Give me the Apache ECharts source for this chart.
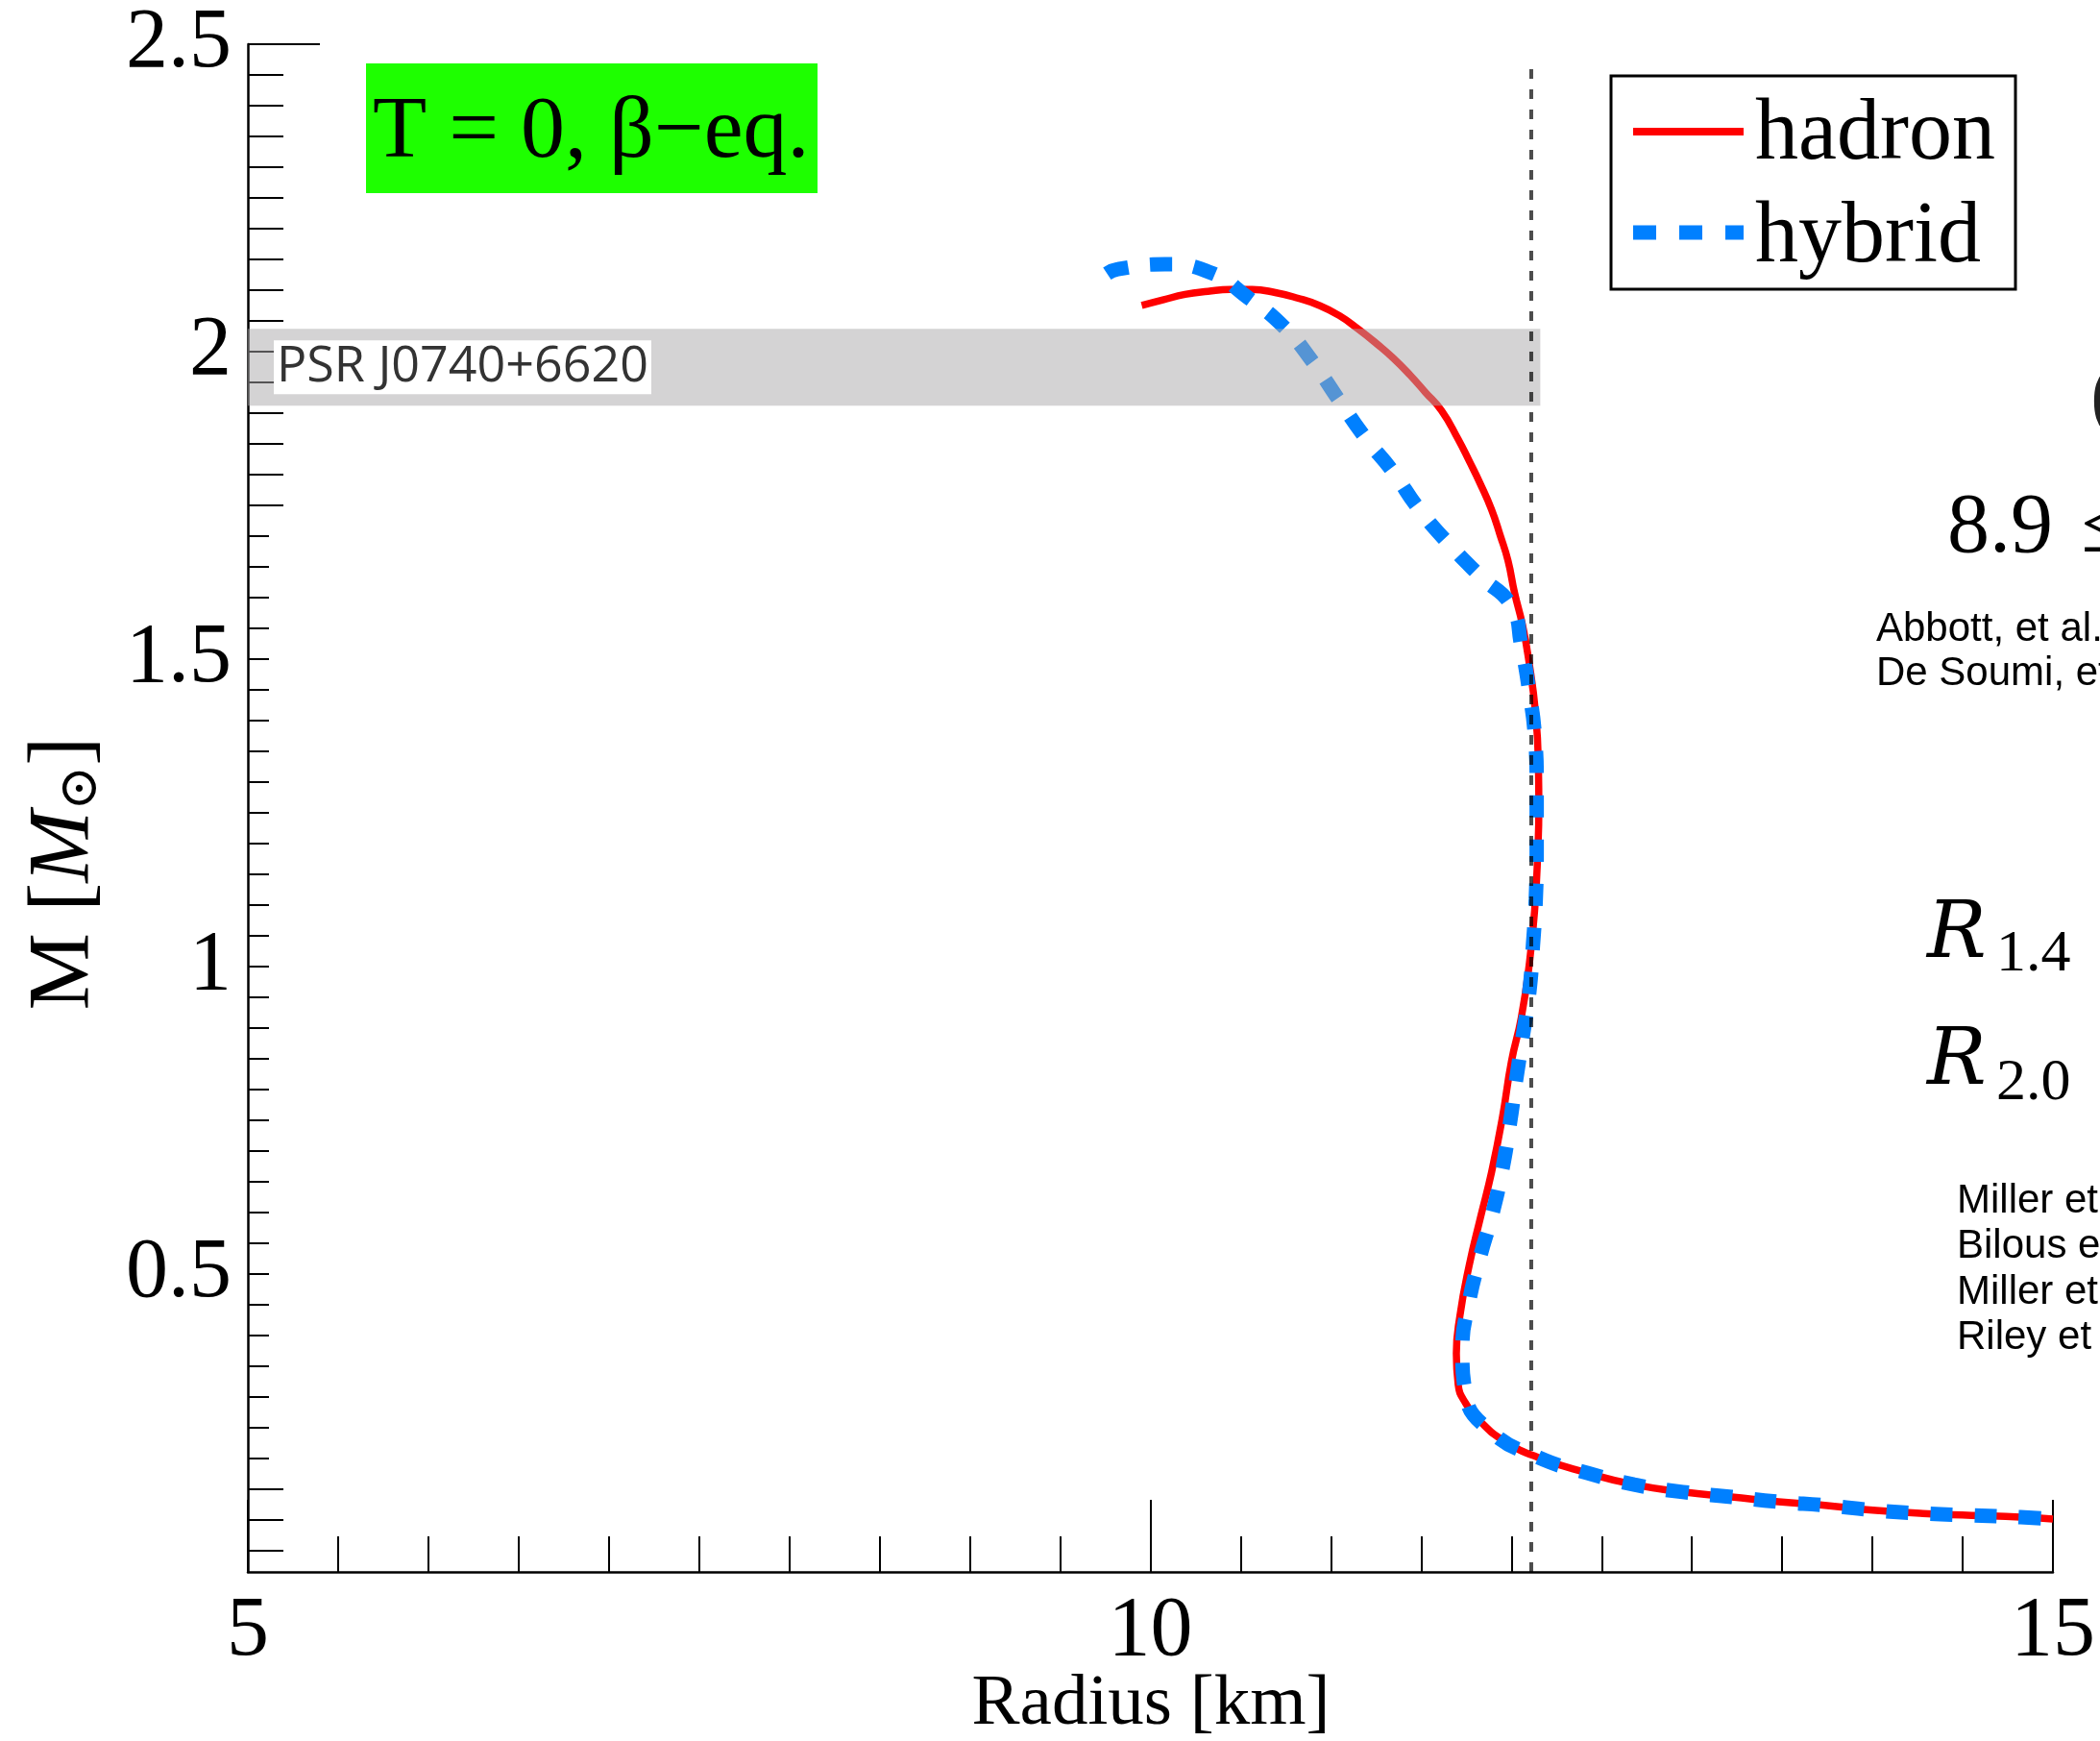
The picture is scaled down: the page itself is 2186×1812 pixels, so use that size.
<!DOCTYPE html>
<html><head><meta charset="utf-8">
<script src="https://cdn.jsdelivr.net/npm/echarts@6/dist/echarts.min.js"></script>
<style>html,body{margin:0;padding:0;background:#fff}#c{width:2186px;height:1812px}</style>
</head><body><div id="c"></div>
<script>
// ---- data ----
const hadronR = [9.952, 10.069, 10.192, 10.319, 10.442, 10.564, 10.692, 10.815, 10.937, 11.044, 11.150, 11.257, 11.347, 11.438, 11.523, 11.613, 11.704, 11.768, 11.826, 11.890, 11.938, 11.981, 12.018, 12.061, 12.093, 12.135, 12.15, 12.152, 12.146, 12.13, 12.10, 12.055, 12.00, 11.95, 11.89, 11.83, 11.765, 11.715, 11.695, 11.705, 11.745, 11.83, 11.96, 12.15, 12.42, 12.68, 12.95, 13.22, 13.48, 13.75, 14.02, 14.28, 14.55, 14.82, 15.0];
const hadronM = [2.075, 2.084, 2.093, 2.098, 2.101, 2.101, 2.096, 2.087, 2.075, 2.059, 2.037, 2.012, 1.989, 1.962, 1.934, 1.904, 1.858, 1.821, 1.786, 1.743, 1.701, 1.660, 1.607, 1.556, 1.504, 1.409, 1.320, 1.257, 1.186, 1.096, 1.006, 0.917, 0.845, 0.754, 0.665, 0.593, 0.512, 0.432, 0.370, 0.320, 0.290, 0.259, 0.228, 0.201, 0.176, 0.157, 0.145, 0.137, 0.129, 0.123, 0.115, 0.110, 0.107, 0.104, 0.101];
const hybridR = [9.76, 9.82, 10.08, 10.33, 10.54, 10.74, 10.90, 11.04, 11.19, 11.34, 11.49, 11.66, 11.83, 12.00, 12.055, 12.10, 12.13, 12.14, 12.14, 12.135, 12.12, 12.10, 12.065, 12.025, 11.99, 11.95, 11.895, 11.825, 11.765, 11.728, 11.745, 11.88, 12.15, 12.42, 12.68, 12.95, 13.22, 13.48, 13.75, 14.02, 14.28, 14.55, 14.82, 15.0];
const hybridM = [2.127, 2.134, 2.142, 2.129, 2.088, 2.040, 1.983, 1.923, 1.860, 1.806, 1.743, 1.685, 1.634, 1.586, 1.521, 1.445, 1.375, 1.298, 1.186, 1.109, 1.037, 0.960, 0.890, 0.813, 0.741, 0.670, 0.598, 0.526, 0.454, 0.378, 0.306, 0.245, 0.201, 0.176, 0.157, 0.145, 0.137, 0.129, 0.123, 0.115, 0.110, 0.107, 0.104, 0.101];

const refLineR = [12.11, 12.11];
const refLineM = [0.015, 2.468];

const bandR = [5, 12.16];
const bandM = [1.912, 2.037];
const bandName = 'PSR J0740+6620';

const xRange = [5, 15];
const yRange = [0.015, 2.5];
const yLabelValues = [0.5, 1, 1.5, 2, 2.5];
const yShortTicks = [0.20, 0.25, 0.30, 0.35, 0.40, 0.45, 0.50, 0.55, 0.60, 0.65, 0.70, 0.75, 0.80, 0.85, 0.90, 0.95, 1.00, 1.05, 1.10, 1.15, 1.20, 1.25, 1.30, 1.35, 1.40, 1.45, 1.50, 1.55, 1.60, 1.65, 1.70];
const yLongTicks = [0.05, 0.10, 0.15, 1.75, 1.80, 1.85, 1.90, 1.95, 2.00, 2.05, 2.10, 2.15, 2.20, 2.25, 2.30, 2.35, 2.40, 2.45];
const yTopTick = [2.5];

const seriesNames = ['hadron', 'hybrid'];
const panelTitle = 'T = 0, \u03b2\u2212eq.';

function zip(a, b) { return a.map((v, i) => [v, b[i]]); }

const SERIF = 'Liberation Serif';
const SANS = 'Liberation Sans';
const RED = '#ff0000';
const BLUE = '#0080ff';

const chart = echarts.init(document.getElementById('c'), null, { renderer: 'canvas', width: 2186, height: 1812 });

function extraY(ticks, len) {
  return {
    type: 'value', min: yRange[0], max: yRange[1], position: 'left', offset: 0,
    axisLine: { show: false },
    axisTick: { show: true, inside: true, length: len, customValues: ticks, lineStyle: { color: '#000', width: 2 } },
    axisLabel: { show: false },
    splitLine: { show: false }
  };
}

function txt(x, y, text, family, size, extra) {
  return Object.assign({ type: 'text', z: 11, x: x, y: y,
    style: Object.assign({ text: text, fontFamily: family, fontSize: size, fill: '#000', align: 'left', verticalAlign: 'middle' }, extra || {}) });
}

const option = {
  animation: false,
  backgroundColor: '#fff',
  grid: { left: 258, right: 49, top: 46, bottom: 176, outerBoundsMode: 'none', containLabel: false },
  xAxis: {
    type: 'value', min: xRange[0], max: xRange[1], interval: 5, position: 'bottom',
    axisLine: { show: true, onZero: false, lineStyle: { color: '#000', width: 2.5 } },
    axisTick: { show: true, inside: true, length: 75, lineStyle: { color: '#000', width: 2 } },
    minorTick: { show: true, splitNumber: 10, length: 37, lineStyle: { color: '#000', width: 2 } },
    axisLabel: { fontFamily: SERIF, fontSize: 88, color: '#000', margin: 19 },
    splitLine: { show: false }, minorSplitLine: { show: false }
  },
  yAxis: [
    {
      type: 'value', min: yRange[0], max: yRange[1], position: 'left', offset: 0,
      axisLine: { show: true, onZero: false, lineStyle: { color: '#000', width: 2.5 } },
      axisTick: { show: true, inside: true, length: 22, customValues: yShortTicks, lineStyle: { color: '#000', width: 2 } },
      axisLabel: { customValues: yLabelValues, fontFamily: SERIF, fontSize: 88, color: '#000', margin: 17 },
      splitLine: { show: false }
    },
    extraY(yLongTicks, 37),
    extraY(yTopTick, 75)
  ],
  series: [
    {
      name: seriesNames[0], type: 'line', data: zip(hadronR, hadronM),
      showSymbol: false, symbol: 'none', smooth: 0.5, z: 2,
      lineStyle: { color: RED, width: 7.5 }, itemStyle: { color: RED }
    },
    {
      name: seriesNames[1], type: 'line', data: zip(hybridR, hybridM),
      showSymbol: false, symbol: 'none', smooth: 0.5, z: 3,
      lineStyle: { color: BLUE, width: 15, type: [23, 23], cap: 'butt' }, itemStyle: { color: BLUE }
    },
    {
      name: 'band', type: 'line', data: [], z: 5, silent: true,
      markArea: {
        z: 5, silent: true,
        itemStyle: { color: 'rgba(170,168,169,0.5)' },
        label: {
          show: true, position: 'insideLeft', distance: 27,
          fontFamily: 'Open Sans', fontSize: 52, color: '#333',
          backgroundColor: '#fff', padding: [3, 3, 1, 3]
        },
        data: [[{ name: bandName, xAxis: bandR[0], yAxis: bandM[0] }, { xAxis: bandR[1], yAxis: bandM[1] }]]
      }
    },
    {
      name: 'ref', type: 'line', data: zip(refLineR, refLineM), z: 6, silent: true,
      showSymbol: false, symbol: 'none',
      lineStyle: { color: 'rgba(0,0,0,0.7)', width: 4, type: [10, 11] }
    }
  ],
  graphic: [
    { type: 'rect', z: 10, shape: { x: 381, y: 66, width: 470, height: 135 }, style: { fill: '#1eff00' } },
    txt(388, 139, panelTitle, SERIF, 92),
    // legend
    { type: 'rect', z: 10, shape: { x: 1677, y: 79, width: 421, height: 222 }, style: { fill: '#fff', stroke: '#000', lineWidth: 3 } },
    { type: 'line', z: 11, shape: { x1: 1700, y1: 137, x2: 1815, y2: 137 }, style: { stroke: RED, lineWidth: 8 } },
    { type: 'line', z: 11, shape: { x1: 1700, y1: 242, x2: 1815, y2: 242 }, style: { stroke: BLUE, lineWidth: 15, lineDash: [24, 24], lineCap: 'butt' } },
    txt(1827, 141, seriesNames[0], SERIF, 90),
    txt(1827, 248, seriesNames[1], SERIF, 90),
    // axis titles
    txt(1198, 1774, 'Radius [km]', SERIF, 75, { align: 'center' }),
    { type: 'text', z: 11, x: 68, y: 909, rotation: Math.PI / 2,
      style: {
        text: '{u|M [}{i|M}{s|\u2299}{u|]}', align: 'center', verticalAlign: 'middle',
        rich: {
          u: { fontFamily: SERIF, fontSize: 90, fill: '#000' },
          i: { fontFamily: SERIF, fontSize: 90, fontStyle: 'italic', fill: '#000' },
          s: { fontFamily: 'DejaVu Serif', fontSize: 56, fill: '#000', verticalAlign: 'bottom' }
        }
      } },
    // right-side annotations (clipped by the canvas edge)
    txt(2176, 416, '(', SERIF, 88, { fill: '#222' }),
    txt(2027, 551, '8.9\u2004\u2264', SERIF, 88),
    txt(1953, 655, 'Abbott, et al.', SANS, 42),
    txt(1953, 701, 'De Soumi, et al.', SANS, 42),
    txt(2006, 975, 'R', 'DejaVu Serif', 82, { fontStyle: 'italic' }),
    txt(2078, 994, '1.4', SERIF, 62),
    txt(2006, 1107, 'R', 'DejaVu Serif', 82, { fontStyle: 'italic' }),
    txt(2078, 1128, '2.0', SERIF, 62),
    txt(2037, 1250, 'Miller et al.', SANS, 42),
    txt(2037, 1297, 'Bilous et al.', SANS, 42),
    txt(2037, 1345, 'Miller et al.', SANS, 42),
    txt(2037, 1392, 'Riley et al.', SANS, 42)
  ]
};
chart.setOption(option);
</script>
</body></html>
